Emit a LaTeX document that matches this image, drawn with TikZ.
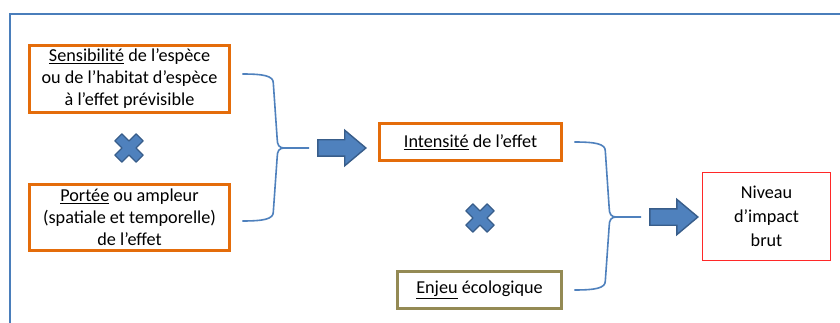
\documentclass[tikz,border=0pt]{standalone}
\usepackage{fontspec}
\setmainfont{Carlito}
\usetikzlibrary{calc,shapes.arrows}

\definecolor{boxorange}{RGB}{228,108,10}
\definecolor{boxolive}{RGB}{148,138,84}
\definecolor{boxred}{RGB}{255,40,40}
\definecolor{arrowfill}{RGB}{79,129,189}
\definecolor{arrowline}{RGB}{56,93,138}
\definecolor{framecol}{RGB}{74,126,187}

\begin{document}
\begin{tikzpicture}[
    x=1pt, y=-1pt,
    every node/.style={font=\fontsize{18.2}{22}\selectfont, text=black},
    orangebox/.style={draw=boxorange, line width=2.6pt, align=center, inner sep=0pt},
    olivebox/.style={draw=boxolive, line width=2.6pt, align=center, inner sep=0pt},
    redbox/.style={draw=boxred, line width=1pt, align=center, inner sep=0pt,
        font=\fontsize{18.2}{24}\selectfont},
    blockarrow/.style={single arrow, fill=arrowfill, draw=arrowline, line width=1.4pt,
        minimum height=48, minimum width=35, inner xsep=0pt, inner ysep=7.5pt,
        single arrow tip angle=80, single arrow head extend=9.5pt},
    bracket/.style={draw=arrowfill, line width=1.6pt},
    timesmark/.style={fill=arrowfill, draw=arrowline, line width=1.3pt, line join=round},
]

% ── Frame ───────────────────────────────────────────────────
\useasboundingbox[fill=white] (0,0) rectangle (840,323);
\draw[framecol, line width=1.1pt] (10,323) -- (10,14) -- (840,14);

% ── Boxes ───────────────────────────────────────────────────
\node[orangebox, minimum width=200, minimum height=67] (sens) at (129.5,79)
    {\underline{Sensibilité} de l’espèce\\ ou de l’habitat d’espèce\\ à l’effet prévisible};
\node[orangebox, minimum width=200, minimum height=66] (portee) at (129.5,217.5)
    {\underline{Portée} ou ampleur\\ (spatiale et temporelle)\\ de l’effet};
\node[orangebox, minimum width=182, minimum height=37] (intens) at (470.5,142)
    {\underline{Intensité} de l’effet};
\node[olivebox, minimum width=164, minimum height=37] (enjeu) at (479.5,290)
    {\underline{Enjeu} écologique};
\node[redbox, minimum width=128, minimum height=88] (niveau) at (766.5,216.5)
    {Niveau\\ d’impact\\ brut};

% ── Block arrows ────────────────────────────────────────────
\node[blockarrow] (arr1) at (337,148) {};
\node[blockarrow] (arr2) at (669,217) {};

% ── Multiplication marks ────────────────────────────────────
\foreach \cx/\cy in {129/148, 480/218} {
    \begin{scope}[shift={(\cx,\cy)}, rotate=45]
        \draw[timesmark] (5,-15) -- (5,-5) -- (15,-5) -- (15,5) -- (5,5)
            -- (5,15) -- (-5,15) -- (-5,5) -- (-15,5) -- (-15,-5)
            -- (-5,-5) -- (-5,-15) -- cycle;
    \end{scope}
}

% ── Braces ──────────────────────────────────────────────────
\coordinate (b1top) at ($(sens.east)+(11.5,-5)$);
\coordinate (b1bot) at ($(portee.east)+(11.5,3.5)$);
\coordinate (b1tip) at ($(arr1.west)+(-8,0)$);
\coordinate (b2top) at ($(intens.east)+(11.5,0)$);
\coordinate (b2bot) at ($(enjeu.east)+(11.5,0)$);
\coordinate (b2tip) at ($(arr2.west)+(-8,0)$);

\foreach \i in {1,2} {
    \draw[bracket] (b\i top) .. controls +(22,0) and +(0,-7) .. ($(b\i top)+(31,9)$)
        -- ($(b\i tip)+(-32,-9)$) .. controls +(0,6) and +(-5,0) .. ($(b\i tip)+(-25,0)$)
        -- (b\i tip);
    \draw[bracket] (b\i bot) .. controls +(22,0) and +(0,7) .. ($(b\i bot)+(31,-9)$)
        -- ($(b\i tip)+(-32,9)$) .. controls +(0,-6) and +(-5,0) .. ($(b\i tip)+(-25,0)$);
}

\end{tikzpicture}
\end{document}
